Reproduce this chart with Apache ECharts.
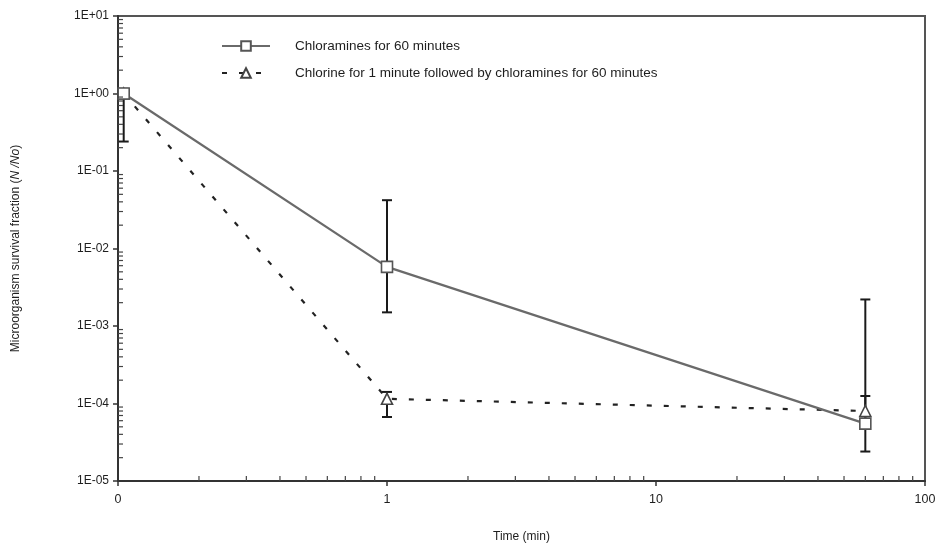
<!DOCTYPE html>
<html>
<head>
<meta charset="utf-8">
<script src="https://cdn.jsdelivr.net/npm/echarts@6/dist/echarts.min.js"></script>
<style>
  html, body { margin: 0; padding: 0; background: #fff; }
  #chart { width: 940px; height: 556px; }
</style>
</head>
<body>
<div id="chart"></div>
<script>
// Survival fraction (N/No) versus contact time (min)
const timeMin = [0.105, 1, 60];

const chloraminesFraction = [1.0, 0.0058, 5.5e-5];
const chloraminesLow = [0.24, 0.0015, 2.4e-5];
const chloraminesHigh = [1.15, 0.042, 0.0022];

const chlorineFraction = [1.0, 1.15e-4, 8.0e-5];
const chlorineLow = [null, 6.7e-5, 6.0e-5];
const chlorineHigh = [null, 1.41e-4, 1.25e-4];

const seriesNames = [
  'Chloramines for 60 minutes',
  'Chlorine for 1 minute followed by chloramines for 60 minutes'
];

const xRange = [0.1, 100];
const yRange = [1e-5, 10];

const FONT = '"Liberation Sans", Arial, sans-serif';
const INK = '#1e1e1e';

// minor log ticks (2..9 within each decade)
function minorTicks(lo, hi) {
  const out = [];
  for (let e = Math.round(Math.log10(lo)); e < Math.round(Math.log10(hi)); e++) {
    for (let m = 2; m <= 9; m++) out.push(m * Math.pow(10, e));
  }
  return out;
}
const xMinor = minorTicks(xRange[0], xRange[1]);
const yMinor = minorTicks(yRange[0], yRange[1]);

function fmtY(v) {
  const e = Math.round(Math.log10(v));
  const a = Math.abs(e);
  return '1E' + (e >= 0 ? '+' : '-') + (a < 10 ? '0' : '') + a;
}
function fmtX(v) {
  if (v < 0.5) return '0';
  return String(Math.round(v));
}

function pairs(xs, ys) { return xs.map((x, i) => [x, ys[i]]); }
function bars(xs, lo, hi) {
  return xs.map((x, i) => [x, lo[i], hi[i]]).filter(d => d[1] != null);
}

function errorBarRender(params, api) {
  const x = api.value(0);
  const p1 = api.coord([x, api.value(1)]);
  const p2 = api.coord([x, api.value(2)]);
  const half = 5;
  const style = { stroke: '#1a1a1a', lineWidth: 2 };
  return {
    type: 'group',
    children: [
      { type: 'line', shape: { x1: p1[0], y1: p1[1], x2: p2[0], y2: p2[1] }, style },
      { type: 'line', shape: { x1: p1[0] - half, y1: p1[1], x2: p1[0] + half, y2: p1[1] }, style },
      { type: 'line', shape: { x1: p2[0] - half, y1: p2[1], x2: p2[0] + half, y2: p2[1] }, style }
    ]
  };
}

function xMinorRender(params, api) {
  const p = api.coord([api.value(0), yRange[0]]);
  return { type: 'line', shape: { x1: p[0], y1: p[1], x2: p[0], y2: p[1] - 5 },
           style: { stroke: '#444', lineWidth: 1.2 } };
}
function yMinorRender(params, api) {
  const p = api.coord([xRange[0], api.value(1)]);
  return { type: 'line', shape: { x1: p[0], y1: p[1], x2: p[0] + 5, y2: p[1] },
           style: { stroke: '#444', lineWidth: 1.2 } };
}

const chart = echarts.init(document.getElementById('chart'), null, { renderer: 'canvas' });

chart.setOption({
  animation: false,
  backgroundColor: '#fff',
  textStyle: { fontFamily: FONT },
  grid: {
    left: 118, right: 15, top: 16, bottom: 75,
    show: true, borderColor: '#555', borderWidth: 2, backgroundColor: 'transparent'
  },
  legend: {
    orient: 'vertical',
    left: 216, top: 34,
    itemWidth: 48, itemHeight: 12, itemGap: 13,
    data: seriesNames,
    textStyle: { fontFamily: FONT, fontSize: 13.5, color: INK, padding: [0, 0, 0, 20] }
  },
  xAxis: {
    type: 'log', logBase: 10, min: xRange[0], max: xRange[1],
    name: 'Time (min)', nameLocation: 'middle', nameGap: 50,
    nameTextStyle: { fontFamily: FONT, fontSize: 12, color: INK },
    axisLine: { lineStyle: { color: '#333', width: 2 } },
    axisTick: { show: true, length: 5, lineStyle: { color: '#333', width: 1.5 } },
    axisLabel: { formatter: fmtX, fontFamily: FONT, fontSize: 12.5, color: INK, margin: 12 },
    splitLine: { show: false }
  },
  yAxis: {
    type: 'log', logBase: 10, min: yRange[0], max: yRange[1],
    name: 'Microorganism survival fraction ({i|N /No})',
    nameLocation: 'middle', nameGap: 96, nameRotate: 90,
    nameTextStyle: {
      fontFamily: FONT, fontSize: 12, color: INK,
      rich: { i: { fontFamily: FONT, fontSize: 12, fontStyle: 'italic', color: INK } }
    },
    axisLine: { lineStyle: { color: '#333', width: 2 } },
    axisTick: { show: true, length: 5, lineStyle: { color: '#333', width: 1.5 } },
    axisLabel: { formatter: fmtY, fontFamily: FONT, fontSize: 12, color: INK, margin: 9 },
    splitLine: { show: false }
  },
  series: [
    {
      name: seriesNames[0],
      type: 'line',
      data: pairs(timeMin, chloraminesFraction),
      symbol: 'rect', symbolSize: 11,
      lineStyle: { color: '#6a6a6a', width: 2.2 },
      itemStyle: { color: '#fff', borderColor: '#555', borderWidth: 1.6 },
      z: 4
    },
    {
      name: seriesNames[1],
      type: 'line',
      data: pairs(timeMin, chlorineFraction),
      symbol: 'triangle', symbolSize: 11,
      lineStyle: { color: '#222', width: 2.2, type: [5, 12] },
      itemStyle: { color: '#fff', borderColor: '#444', borderWidth: 1.6 },
      z: 3
    },
    {
      type: 'custom', name: 'chloraminesError', renderItem: errorBarRender,
      data: bars(timeMin, chloraminesLow, chloraminesHigh),
      encode: { x: 0, y: [1, 2] }, z: 2, silent: true, clip: false
    },
    {
      type: 'custom', name: 'chlorineError', renderItem: errorBarRender,
      data: bars(timeMin, chlorineLow, chlorineHigh),
      encode: { x: 0, y: [1, 2] }, z: 2, silent: true, clip: false
    },
    {
      type: 'custom', name: 'xMinorTicks', renderItem: xMinorRender,
      data: xMinor.map(v => [v, yRange[0]]), encode: { x: 0, y: 1 },
      silent: true, clip: false, z: 5
    },
    {
      type: 'custom', name: 'yMinorTicks', renderItem: yMinorRender,
      data: yMinor.map(v => [xRange[0], v]), encode: { x: 0, y: 1 },
      silent: true, clip: false, z: 5
    }
  ]
});
</script>
</body>
</html>
